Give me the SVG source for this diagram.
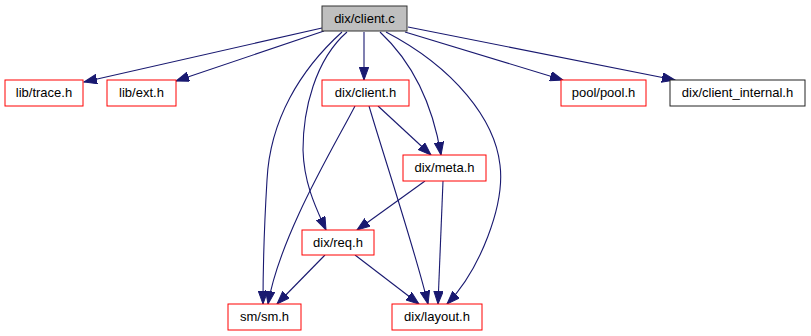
<svg xmlns="http://www.w3.org/2000/svg" width="811" height="336" viewBox="0 0 811 336">
  <style>
    .node rect { fill: #ffffff; stroke: #ff0000; stroke-width: 1; }
    .node.root rect { fill: #bfbfbf; stroke: #333333; }
    .node.leaf rect { stroke: #222222; }
    .node text { font-family: "Liberation Sans", Arial, Helvetica, sans-serif; font-size: 13px; fill: #000000; text-anchor: middle; }
    .edges path { fill: none; stroke: #191970; stroke-width: 1.1; marker-end: url(#arrow); }
  </style>
  <defs>
    <marker id="arrow" markerUnits="userSpaceOnUse" markerWidth="14" markerHeight="10" refX="13" refY="4.75" orient="auto">
      <path d="M0,0 L13,4.75 L0,9.5 z" fill="#191970" stroke="#191970" stroke-width="1"/>
    </marker>
  </defs>
  <rect width="811" height="336" fill="#ffffff"/>

  <g class="edges">
    <path d="M322,28 L84,82"/>
    <path d="M324,31 L176,81"/>
    <path d="M364,32 L364,80"/>
    <path d="M405,32 L563,80"/>
    <path d="M408,27 L675,80"/>
    <path d="M342,32 C300,70 270,120 267,180 C264,230 263,270 263,304"/>
    <path d="M347,32 C315,60 303,110 303,150 C304,185 317,210 326,230"/>
    <path d="M380,32 C410,60 432,100 441,155"/>
    <path d="M386,32 C455,68 495,120 500,165 C505,205 480,270 447,304"/>
    <path d="M378,106 L431,155"/>
    <path d="M355,106 C335,145 280,235 268,304"/>
    <path d="M369,106 C385,160 415,250 428,304"/>
    <path d="M425,181 L357,230"/>
    <path d="M443,181 L438,304"/>
    <path d="M325,255 L277,304"/>
    <path d="M355,255 L419,304"/>
  </g>

  <g id="node-dix-client-c" class="node root">
    <rect x="322" y="6" width="85" height="25"/>
    <text x="364.5" y="23">dix/client.c</text>
  </g>
  <g id="node-lib-trace-h" class="node">
    <rect x="5" y="80" width="78" height="26"/>
    <text x="44" y="97">lib/trace.h</text>
  </g>
  <g id="node-lib-ext-h" class="node">
    <rect x="107" y="80" width="69" height="26"/>
    <text x="141.5" y="97">lib/ext.h</text>
  </g>
  <g id="node-dix-client-h" class="node">
    <rect x="322" y="80" width="87" height="26"/>
    <text x="365.5" y="97">dix/client.h</text>
  </g>
  <g id="node-pool-pool-h" class="node">
    <rect x="561" y="80" width="85" height="26"/>
    <text x="603.5" y="97">pool/pool.h</text>
  </g>
  <g id="node-dix-client-internal-h" class="node leaf">
    <rect x="670" y="80" width="135" height="26"/>
    <text x="737.5" y="97">dix/client_internal.h</text>
  </g>
  <g id="node-dix-meta-h" class="node">
    <rect x="403" y="155" width="83" height="26"/>
    <text x="444.5" y="172">dix/meta.h</text>
  </g>
  <g id="node-dix-req-h" class="node">
    <rect x="302" y="230" width="72" height="25"/>
    <text x="338" y="247">dix/req.h</text>
  </g>
  <g id="node-sm-sm-h" class="node">
    <rect x="228" y="304" width="73" height="26"/>
    <text x="264.5" y="321">sm/sm.h</text>
  </g>
  <g id="node-dix-layout-h" class="node">
    <rect x="392" y="304" width="90" height="26"/>
    <text x="437" y="321">dix/layout.h</text>
  </g>
</svg>
